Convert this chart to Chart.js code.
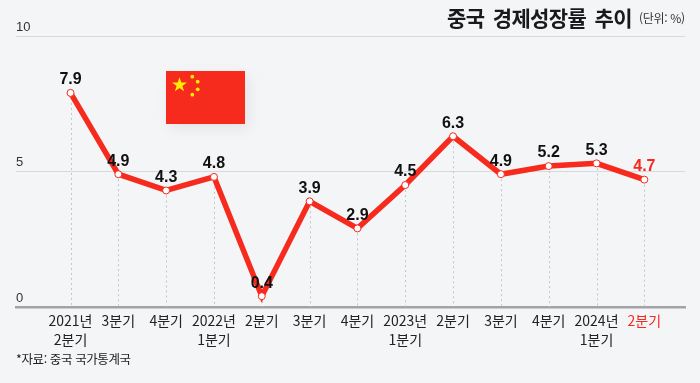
<!DOCTYPE html>
<html lang="ko">
<head>
<meta charset="utf-8">
<style>
html,body{margin:0;padding:0;background:#f4f5f7;}
#wrap{position:relative;width:700px;height:383px;overflow:hidden;font-family:"Noto Sans CJK KR",sans-serif;}
#c{position:absolute;left:0;top:0;}
#title{position:absolute;right:68px;top:-1px;font-size:21px;font-weight:700;color:#1a1a1a;white-space:pre;line-height:36px;letter-spacing:-.6px;word-spacing:3px;}
#unit{position:absolute;left:639px;top:9px;font-size:12px;color:#333;white-space:pre;line-height:18px;letter-spacing:-.3px;}
#note{position:absolute;left:16px;top:350px;font-size:12.5px;color:#222;white-space:pre;line-height:18px;letter-spacing:-.4px;}
#flag{position:absolute;left:166px;top:71px;width:79px;height:53px;box-shadow:4px 5px 14px rgba(0,0,0,.07);}
</style>
</head>
<body>
<div id="wrap">
<canvas id="c" width="700" height="383"></canvas>
<svg id="flag" viewBox="0 0 79 53">
<rect width="79" height="53" fill="#f62a1d"/>
<polygon fill="#ffee00" points="13.5,6.2 15.3,11.5 20.9,11.6 16.4,15 18.1,20.3 13.5,17.1 8.9,20.3 10.6,15 6.1,11.6 11.7,11.5"/>
<circle cx="26.3" cy="5.7" r="1.9" fill="#ffee00"/><circle cx="31.7" cy="10.7" r="1.9" fill="#ffee00"/>
<circle cx="31.7" cy="18.3" r="1.9" fill="#ffee00"/><circle cx="26.3" cy="23.7" r="1.9" fill="#ffee00"/>
</svg>
<div id="title">중국 경제성장률 추이</div>
<div id="unit">(단위: %)</div>
<div id="note">*자료: 중국 국가통계국</div>
</div>
<script src="https://cdn.jsdelivr.net/npm/chart.js@4"></script>
<script>
const categories = [["2021년","2분기"],"3분기","4분기",["2022년","1분기"],"2분기","3분기","4분기",["2023년","1분기"],"2분기","3분기","4분기",["2024년","1분기"],"2분기"];
const growth = [7.9,4.9,4.3,4.8,0.4,3.9,2.9,4.5,6.3,4.9,5.2,5.3,4.7];
const yTicks = [0,5,10];
const RED = "#f62a1d";
const lastIndex = growth.length - 1;

const dropLines = {
  id:"dropLines",
  beforeDatasetsDraw(chart){
    const {ctx,scales:{x,y}} = chart;
    ctx.save();
    ctx.setLineDash([2,3]);
    ctx.lineWidth = 1;
    ctx.strokeStyle = "#c3c5cb";
    growth.forEach((v,i)=>{
      const px = Math.round(x.getPixelForValue(i))+.5;
      ctx.beginPath();
      ctx.moveTo(px,y.getPixelForValue(v));
      ctx.lineTo(px,y.getPixelForValue(0));
      ctx.stroke();
    });
    ctx.restore();
  }
};
const valueLabels = {
  id:"valueLabels",
  afterDatasetsDraw(chart){
    const {ctx,scales:{x,y}} = chart;
    ctx.save();
    ctx.font = "bold 16px 'Liberation Sans', sans-serif";
    ctx.textAlign = "center";
    ctx.textBaseline = "middle";
    growth.forEach((v,i)=>{
      ctx.fillStyle = i===lastIndex ? RED : "#111";
      ctx.fillText(v.toFixed(1),x.getPixelForValue(i),y.getPixelForValue(v)-13);
    });
    ctx.restore();
  }
};

new Chart(document.getElementById("c"),{
  type:"line",
  data:{datasets:[{
    data:growth.map((v,i)=>({x:i,y:v})),
    borderColor:RED,
    borderWidth:5.5,
    tension:0,
    pointRadius:3.5,
    pointBackgroundColor:"#fff",
    pointBorderColor:RED,
    pointBorderWidth:1,
    borderCapStyle:"round",
    borderJoinStyle:"miter"
  }]},
  options:{
    responsive:false,
    animation:false,
    layout:{padding:{left:16,right:15,top:36,bottom:0}},
    plugins:{legend:{display:false},tooltip:{enabled:false}},
    scales:{
      x:{
        type:"linear",
        min:-1.14,
        max:12.85,
        afterBuildTicks(s){ s.ticks = categories.map((_,i)=>({value:i})); },
        afterFit(s){ s.height = 76; },
        grid:{display:false,drawTicks:false},
        border:{display:true,color:"#a3a3a6",width:2.5},
        ticks:{
          autoSkip:false,
          maxRotation:0,
          padding:4,
          color:c=>c.index===lastIndex?RED:"#222",
          font:{family:"'Noto Sans CJK KR'",size:14,lineHeight:1.36},
          callback:(v,i)=>categories[i]
        }
      },
      y:{
        min:0,
        max:10,
        afterBuildTicks(s){ s.ticks = yTicks.map(v=>({value:v})); },
        afterFit(s){ s.width = 0; },
        grid:{color:"#d6d7df",lineWidth:1,drawTicks:false},
        border:{display:false},
        ticks:{mirror:true,padding:0,labelOffset:-9,color:"#333",font:{family:"'Liberation Sans'",size:13}}
      }
    }
  },
  plugins:[dropLines,valueLabels]
});
</script>
</body>
</html>
